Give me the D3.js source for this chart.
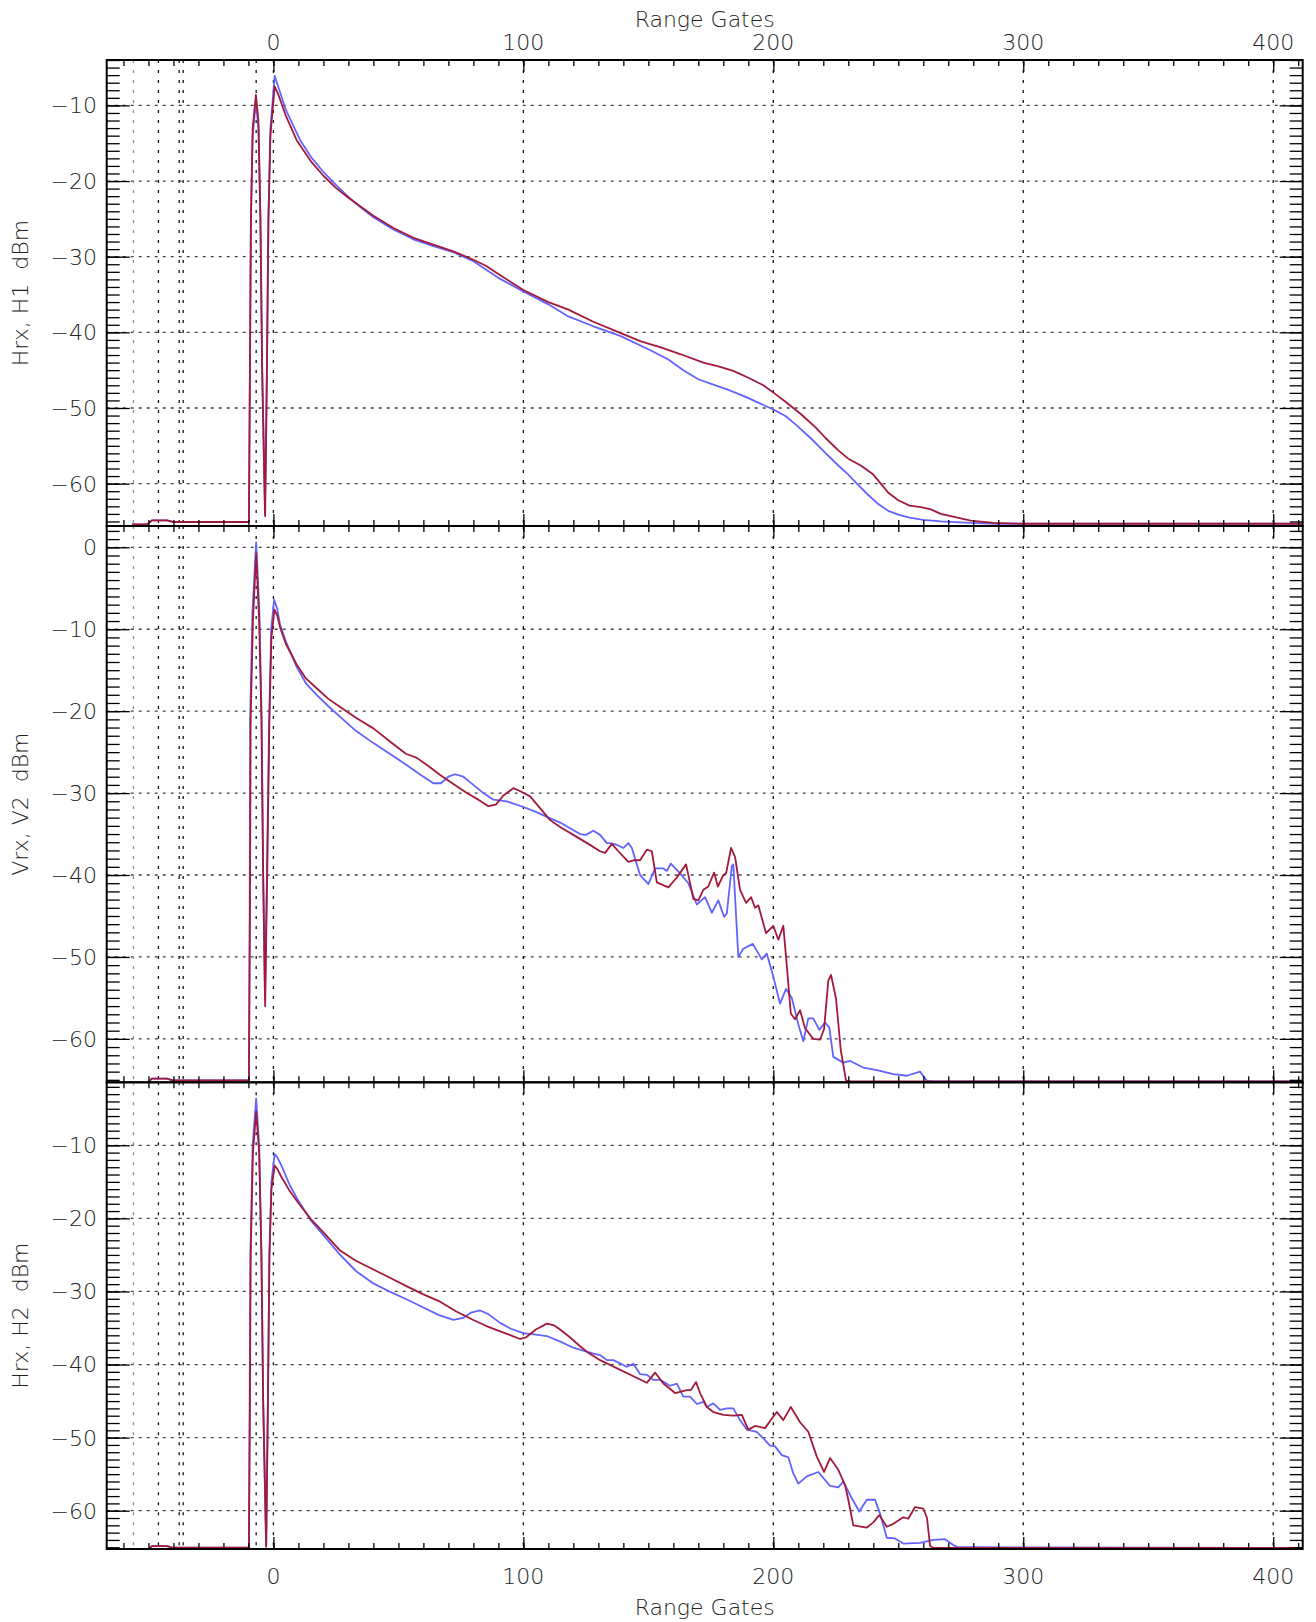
<!DOCTYPE html>
<html>
<head>
<meta charset="utf-8">
<script src="https://cdn.jsdelivr.net/npm/d3@7"></script>
<style>
  body { margin: 0; background: #fff; }
  svg text { font-family: "DejaVu Sans", sans-serif; font-weight: 200; fill: #222; }
</style>
</head>
<body>
<svg id="chart" width="1316" height="1622"></svg>
<script>
// ---- data (range gate, dBm) ----
const leadIn = [[-56.6,-65.4],[-50.6,-65.4],[-48.6,-64.85],[-42.6,-64.85],[-40.2,-65.07],[-9.8,-65.07]];

const h1Blue = [[-9.4,-45],[-9,-25],[-8.3,-14],[-7,-9.5],[-6,-13],[-5.2,-25],[-4.5,-45],[-3.4,-64],[-2.6,-45],[-2,-25],[-1.2,-13],
  [0.5,-6.1],[2,-7.6],[5,-10.6],[10.7,-14.6],[15,-16.8],[20,-18.8],[25,-20.5],[30,-22.1],[35,-23.5],[40,-24.8],[48,-26.4],
  [56,-27.7],[64,-28.6],[72,-29.4],[80,-30.6],[90,-32.8],[100,-34.6],[110,-36.3],[118,-37.9],[128,-39.2],[139,-40.5],
  [151,-42.4],[158,-43.6],[164,-45],[170,-46.2],[176,-46.9],[182,-47.6],[188,-48.4],[194,-49.3],[200,-50.2],[205,-51.1],
  [209,-52.2],[215,-54],[221,-56],[226,-57.6],[230,-58.8],[234,-60.2],[238,-61.5],[242,-62.7],[246,-63.6],[250,-64.1],
  [254.5,-64.5],[260,-64.8],[267,-65],[279,-65.2],[290,-65.3],[412,-65.3]];
const h1Red = [[-9.4,-45],[-9,-25],[-8.3,-13],[-7,-8.6],[-6,-12],[-5.2,-25],[-4.5,-45],[-3.3,-64.3],[-2.6,-45],[-2,-25],[-1.2,-14],
  [0.5,-7.5],[2,-8.6],[5,-11.4],[9.3,-14.6],[15,-17.4],[20,-19.3],[25,-20.9],[30,-22.2],[35,-23.4],[40,-24.6],[48,-26.2],
  [56,-27.5],[64,-28.4],[72,-29.3],[80,-30.4],[85,-31.2],[90,-32.3],[100,-34.4],[110,-36],[118,-37],[128,-38.6],[139,-40.1],
  [147,-41.2],[155,-42],[163,-42.9],[172,-44],[178,-44.5],[184,-45.1],[190,-46],[196,-47],[201,-48.2],[205,-49.2],
  [211,-50.8],[217,-52.6],[221,-54],[226,-55.6],[230,-56.7],[235,-57.6],[240,-58.8],[243,-60],[246,-61.2],[250,-62.2],
  [254.5,-62.9],[259,-63.1],[263,-63.4],[267,-64],[271,-64.3],[279,-64.9],[288,-65.2],[300,-65.3],[412,-65.3]];

const v2Blue = [[-9.5,-45],[-9.3,-21],[-8.4,-8],[-6.9,0.6],[-5.6,-8],[-4.7,-21],[-4.1,-40],[-3.4,-55],[-2.6,-40],[-1.7,-21],[-0.9,-10],
  [0.3,-6.4],[1.5,-7.5],[2.7,-9.5],[5,-11.5],[9.3,-14.6],[13,-16.6],[17.3,-18],[22,-19.4],[26.7,-20.7],[33,-22.4],[40,-23.9],
  [47,-25.3],[53.4,-26.6],[59,-27.8],[64,-28.8],[67,-28.8],[70,-28],[72.7,-27.7],[76,-28],[80,-29],[84,-30],[88,-30.8],
  [93.4,-31],[100,-31.7],[105,-32.3],[109.4,-32.9],[114.7,-33.6],[118.7,-34.3],[122.7,-35],[125,-35.1],[128,-34.6],
  [130.7,-35.1],[133.4,-36.1],[134.7,-36.1],[137.3,-36.3],[140,-36.7],[142,-36.1],[143.4,-36.7],[146.7,-40],[150,-41.1],
  [152.7,-39.2],[156,-39.2],[157.4,-39.5],[159,-38.6],[162.7,-39.8],[166,-41],[169.4,-43.6],[172.7,-42.7],[175.4,-44.6],
  [178,-43.1],[180.3,-45.1],[181.4,-44.7],[183.4,-38.9],[184,-38.7],[186,-50],[188,-49],[191.8,-48.4],[195.4,-50.3],
  [197.4,-49.6],[200,-52.4],[202.7,-55.7],[205.1,-53.9],[207.4,-55],[210,-58.2],[212,-60.3],[214,-57.5],[216,-57.5],
  [218.4,-58.9],[220.7,-58],[222.4,-58.6],[224,-62.2],[228,-62.9],[230.7,-62.7],[236,-63.5],[241.4,-63.8],[248,-64.3],
  [253.4,-64.5],[258.7,-64],[261.4,-65.1],[264,-65.2],[412,-65.2]];
const v2Red = [[-9.4,-45],[-9.1,-21],[-8.2,-9],[-6.9,-0.7],[-5.7,-9],[-4.8,-21],[-4.1,-40],[-3.3,-56],[-2.5,-40],[-1.6,-21],[-0.8,-11],
  [0.4,-7.6],[1.5,-8.3],[2.7,-9.8],[5,-11.8],[9.3,-14.3],[13,-16],[17.3,-17.2],[22,-18.5],[26.7,-19.5],[33,-20.8],[40,-22.1],
  [47,-23.8],[53,-25.2],[57.4,-25.7],[62,-26.7],[66.7,-27.8],[72,-28.9],[77.4,-30],[82,-30.8],[86,-31.6],[89,-31.4],
  [92,-30.3],[96,-29.4],[99,-29.8],[102.7,-30.4],[106,-31.6],[110.7,-33.3],[115,-34.2],[120,-35.1],[126,-36.2],[130.7,-37.1],
  [132.7,-37.3],[135.4,-36.2],[138,-37.1],[142,-38.4],[144,-38.2],[146.7,-38.2],[149.4,-36.9],[151.4,-37.1],[153.4,-40.9],
  [158,-41.5],[161.4,-40.3],[165.1,-38.7],[168,-42.9],[170,-43.1],[172,-41.8],[174,-41.4],[176.3,-39.7],[177.8,-41.4],
  [180,-40],[181.1,-39.8],[183.1,-36.7],[184.7,-37.8],[186.7,-41.8],[189.1,-43.4],[191.1,-42.7],[192.7,-44],[194,-43.7],
  [197.1,-47.1],[200,-46.2],[202,-47.9],[204,-46.2],[205.1,-50],[207,-56.9],[208.7,-57.6],[210.7,-56.5],[212.7,-58.7],
  [216,-60],[218.7,-60.1],[220.3,-58.8],[222,-52.9],[223.1,-52.2],[225.1,-55.1],[227,-61.4],[229.1,-65.1],[231,-65.2],[412,-65.2]];

const h2Blue = [[-9.5,-45],[-9.2,-25],[-8.3,-10],[-6.9,-3.6],[-5.7,-10],[-4.8,-25],[-4.1,-45],[-2.9,-64.9],[-2.2,-45],[-1.6,-25],[-0.8,-15],
  [0.5,-11.2],[1.5,-11.6],[3,-12.6],[6.6,-15.5],[10,-17.6],[15,-20.3],[20,-22.3],[26.7,-25],[33,-27.2],[40,-28.9],[47,-30.1],
  [53.4,-31.1],[60,-32.2],[66,-33.2],[72,-33.9],[76,-33.6],[79,-32.9],[82.7,-32.6],[86,-33.1],[90.7,-34.3],[95,-35.1],
  [100,-35.7],[105,-35.9],[109.4,-36.1],[115,-36.9],[120,-37.7],[128,-38.5],[130.7,-38.7],[133.4,-39.4],[136,-39.4],
  [141.4,-40.3],[144,-39.9],[146.7,-41.3],[149.4,-41.4],[152,-42.1],[154.7,-42.1],[158.7,-42.9],[161.4,-42.6],[164,-44.4],
  [166.7,-44.4],[169.4,-45.4],[172,-45.1],[173.4,-45.8],[176,-45.3],[178.7,-46.2],[181.4,-46],[184,-46],[186.7,-47.6],
  [189.4,-48.9],[193.4,-49.2],[196,-50.1],[198.7,-51.1],[200.7,-51.2],[203.4,-52.4],[206,-52.7],[208,-54.9],[210,-56.3],
  [213.4,-55.3],[218,-54.7],[222.7,-56.6],[226,-56.8],[228,-56],[231.4,-58.3],[234.4,-60.1],[237.4,-58.5],[240.7,-58.5],
  [242.7,-60.4],[245.4,-63.7],[248.7,-63.8],[252,-64.5],[258.7,-64.4],[264,-64],[268.7,-63.9],[272,-64.7],[274,-65],[412,-65.1]];
const h2Red = [[-9.4,-45],[-9.1,-25],[-8.2,-11],[-6.9,-5.4],[-5.7,-11],[-4.8,-25],[-4.1,-45],[-2.9,-64.9],[-2.2,-45],[-1.6,-25],[-0.8,-16],
  [0.5,-12.8],[1.5,-13.2],[3,-14.2],[6.6,-16.3],[10,-17.9],[15,-20.1],[20,-21.9],[26.7,-24.4],[33,-25.8],[40,-27],[47,-28.2],
  [53.4,-29.3],[60,-30.4],[66.7,-31.4],[73,-32.7],[80,-33.9],[85,-34.7],[89.4,-35.3],[95,-36],[98.7,-36.5],[101,-36.3],
  [105,-35.2],[109.4,-34.4],[112,-34.6],[114.7,-35.2],[118,-36.1],[122.7,-37.5],[126,-38.4],[130.7,-39.4],[149.4,-42.5],
  [152.7,-41.1],[156,-42.6],[160.7,-43.9],[165.4,-43.5],[167,-43.5],[169.1,-42.4],[170.7,-43.9],[173.4,-45.8],[176,-46.5],
  [180,-46.9],[184,-47],[187.4,-46.9],[190,-48.9],[192.7,-48.4],[196.7,-48.7],[199,-47.6],[201.4,-46.5],[204,-47.6],
  [207,-45.8],[210.7,-47.9],[214,-49.2],[217.4,-52.6],[220.3,-54.7],[222.7,-52.8],[226,-54.4],[228.7,-56.5],[230,-58.5],
  [232,-62],[237.4,-62.3],[240,-61.6],[242.4,-60.6],[245.4,-62.2],[248,-61.8],[252,-60.9],[254,-61.1],[256.7,-59.5],
  [260,-59.7],[261.5,-61],[262.7,-64.8],[264,-65.1],[412,-65.1]];

const xLabels = [0, 100, 200, 300, 400];
const markerGates = [-46, -37.7, -36.1, -6.9, 0];
const faintMarker = -56;
const panelTitles = ["Hrx, H1  dBm", "Vrx, V2  dBm", "Hrx, H2  dBm"];
const panelDomains = [[-65.6, -4.0], [-65.3, 2.6], [-65.24, -1.38]];
const panelLabels = [[-10,-20,-30,-40,-50,-60], [0,-10,-20,-30,-40,-50,-60], [-10,-20,-30,-40,-50,-60]];

// ---- layout ----
const left = 106.7, right = 1302.7;
const panelTops = [60, 526, 1082.3], panelBottoms = [526, 1082.3, 1549];
const blue = "#6363ff", red = "#a3193a";

const svg = d3.select("#chart");
const x = d3.scaleLinear().domain([-66.7, 411.8]).range([left, right]);
const fmt = v => (v < 0 ? "\u2212" + Math.abs(v) : String(v));

const series = [[h1Blue, h1Red], [v2Blue, v2Red], [h2Blue, h2Red]];

svg.append("defs").append("clipPath").attr("id", "clipAll")
  .append("rect").attr("x", left).attr("y", panelTops[0])
  .attr("width", right - left).attr("height", panelBottoms[2] - panelTops[0]);

series.forEach((pair, i) => {
  const top = panelTops[i], bot = panelBottoms[i];
  const y = d3.scaleLinear().domain(panelDomains[i]).range([bot, top]);
  const g = svg.append("g");

  // horizontal grid
  g.selectAll(".hgrid").data(panelLabels[i]).enter().append("line")
    .attr("x1", left).attr("x2", right)
    .attr("y1", d => y(d)).attr("y2", d => y(d))
    .attr("stroke", "#444").attr("stroke-width", 1.3).attr("stroke-dasharray", "3,5");

  // vertical grid & marker lines
  g.selectAll(".vgrid").data(xLabels.slice(1).concat(markerGates)).enter().append("line")
    .attr("x1", d => x(d)).attr("x2", d => x(d))
    .attr("y1", top).attr("y2", bot)
    .attr("stroke", "#111").attr("stroke-width", 1.3).attr("stroke-dasharray", "3,7");
  g.append("line")
    .attr("x1", x(faintMarker)).attr("x2", x(faintMarker))
    .attr("y1", top).attr("y2", bot)
    .attr("stroke", "#8a8ac0").attr("stroke-width", 1.3).attr("stroke-dasharray", "3,7");

  // lines
  const line = d3.line().x(d => x(d[0])).y(d => y(d[1]));
  const clipId = "clip" + i;
  svg.select("defs").append("clipPath").attr("id", clipId)
    .append("rect").attr("x", left).attr("y", top).attr("width", right - left).attr("height", bot - top);
  g.append("path").datum(leadIn.concat(pair[0])).attr("d", line)
    .attr("fill", "none").attr("stroke", blue).attr("stroke-width", 1.8)
    .attr("stroke-linejoin", "round").attr("clip-path", `url(#${clipId})`);
  g.append("path").datum(leadIn.concat(pair[1])).attr("d", line)
    .attr("fill", "none").attr("stroke", red).attr("stroke-width", 1.8)
    .attr("stroke-linejoin", "round").attr("clip-path", `url(#${clipId})`);

  // y ticks, both sides
  const d0 = panelDomains[i][0], d1 = panelDomains[i][1];
  const minorY = d3.range(Math.ceil(d0), Math.floor(d1) + 1);
  const axL = g.append("g").attr("transform", `translate(${left},0)`)
    .call(d3.axisRight(y).tickValues(minorY).tickSize(13).tickFormat(""));
  const axLM = g.append("g").attr("transform", `translate(${left},0)`)
    .call(d3.axisRight(y).tickValues(panelLabels[i]).tickSize(23).tickFormat(""));
  const axR = g.append("g").attr("transform", `translate(${right},0)`)
    .call(d3.axisLeft(y).tickValues(minorY).tickSize(13).tickFormat(""));
  const axRM = g.append("g").attr("transform", `translate(${right},0)`)
    .call(d3.axisLeft(y).tickValues(panelLabels[i]).tickSize(23).tickFormat(""));

  // x ticks at top and bottom edges of the panel
  const minorX = d3.range(-60, 411, 10);
  const axT = g.append("g").attr("transform", `translate(0,${top})`)
    .call(d3.axisBottom(x).tickValues(minorX).tickSize(6).tickFormat(""));
  const axTM = g.append("g").attr("transform", `translate(0,${top})`)
    .call(d3.axisBottom(x).tickValues(xLabels).tickSize(12).tickFormat(""));
  const axB = g.append("g").attr("transform", `translate(0,${bot})`)
    .call(d3.axisTop(x).tickValues(minorX).tickSize(6).tickFormat(""));
  const axBM = g.append("g").attr("transform", `translate(0,${bot})`)
    .call(d3.axisTop(x).tickValues(xLabels).tickSize(12).tickFormat(""));

  [axL, axLM, axR, axRM, axT, axTM, axB, axBM].forEach(a => {
    a.select(".domain").remove();
    a.selectAll("line").attr("stroke", "#000").attr("stroke-width", 1.3);
  });

  // frame
  g.append("rect").attr("x", left).attr("y", top).attr("width", right - left).attr("height", bot - top)
    .attr("fill", "none").attr("stroke", "#000").attr("stroke-width", 2);

  // y labels
  g.selectAll(".ylab").data(panelLabels[i]).enter().append("text")
    .attr("x", 97).attr("y", d => y(d)).attr("dy", "0.36em")
    .attr("text-anchor", "end").attr("font-size", 22).text(fmt);

  // y title
  g.append("text")
    .attr("transform", `translate(28,${(top + bot) / 2}) rotate(-90)`)
    .attr("text-anchor", "middle").attr("font-size", 22)
    .style("white-space", "pre").text(panelTitles[i]);
});

// x labels top and bottom
svg.selectAll(".xtop").data(xLabels).enter().append("text")
  .attr("x", d => x(d)).attr("y", 42).attr("dy", "0.36em")
  .attr("text-anchor", "middle").attr("font-size", 22).text(fmt);
svg.selectAll(".xbot").data(xLabels).enter().append("text")
  .attr("x", d => x(d)).attr("y", 1576).attr("dy", "0.36em")
  .attr("text-anchor", "middle").attr("font-size", 22).text(fmt);

svg.append("text").attr("x", (left + right) / 2).attr("y", 18.6).attr("dy", "0.36em")
  .attr("text-anchor", "middle").attr("font-size", 22).text("Range Gates");
svg.append("text").attr("x", (left + right) / 2).attr("y", 1606.6).attr("dy", "0.36em")
  .attr("text-anchor", "middle").attr("font-size", 22).text("Range Gates");
</script>
</body>
</html>
